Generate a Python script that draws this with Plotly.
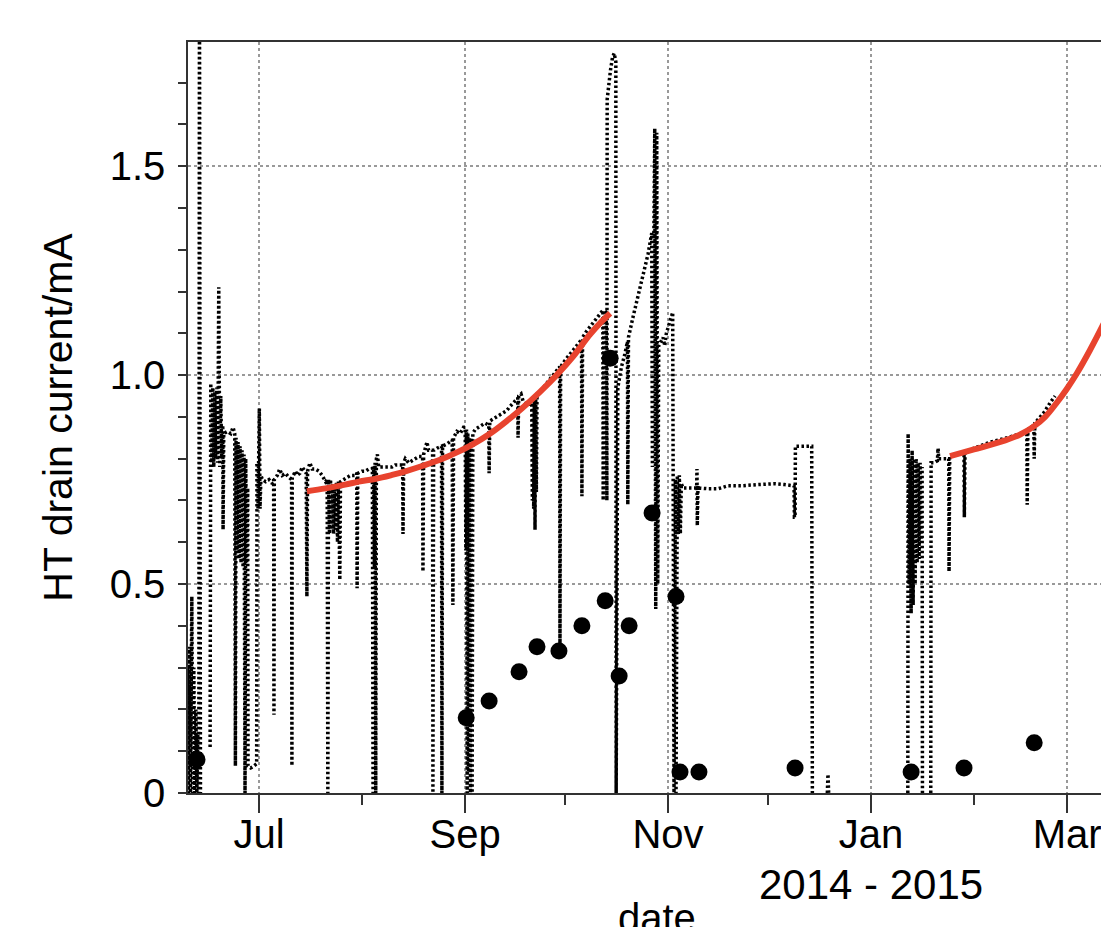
import pandas as pd
import plotly.graph_objects as go

start = pd.Timestamp("2014-06-01")

# HT drain current log, x in days after 1 June 2014 (None = no data)
current_day = [
    8.2, 8.5, 8.8, 9.1, 9.4, 9.8, 10.1, 10.4, 10.7, 11.0, 11.3, 11.6, 11.9, 12.1, 12.3, 12.4, None,
    15.3, 15.5, 15.8, 16.1, 16.4, 16.7, 17.0, 17.3, 17.6, 17.9, 18.2, 18.5, 18.8, 19.1, 19.2, 19.4,
    20.5, 21.5, 22.2, 22.7, 22.9, 23.1, 23.4, 23.7, 24.0, 24.3, 24.6, 24.9, 25.2, 25.5, 25.8,
    26.0, 26.3, 26.6, 26.7, 27.5, 28.5, 29.3, 29.4, 29.7, 30.1, 30.3, 30.6,
    31.0, 32.0, 33.0, 34.0, 34.4, 34.5, 34.6, 35.5, 36.2, 37.0, 38.0, 39.0, 39.8, 39.9,
    40.0, 41.0, 41.5, 42.3, 43.0, 44.2, 44.4, 44.6, 45.3, 46.0, 47.0, 48.0, 49.0, 50.0,
    50.5, 50.7, 50.9, 51.2, 51.5, 51.8, 52.1, 52.4, 52.7, 53.0, 53.3, 53.6, 53.9, 54.3, 54.5,
    55.5, 56.5, 57.5, 59.0, 59.4, 59.5, 59.7, 61.0, 62.0, 63.0, 64.1, 64.3, 64.5, 64.7, 64.9,
    65.1, 65.3, 65.6, 66.0,
    67.0, 68.0, 69.0, 70.0, 71.0, 72.0, 73.2, 73.3, 73.5, 74.0, 75.0, 76.0, 77.0, 78.0, 79.2,
    79.3, 79.5, 80.5, 81.0, 82.2, 82.3, 82.5, 83.5, 84.9, 85.0, 85.2, 86.5, 88.1, 88.3, 88.5,
    89.5, 90.5, 91.5,
    92.0, 92.2, 92.4, 92.6, 92.8, 93.0, 93.3, 93.6, 93.9, 94.1, 94.3, 95.0, 96.0, 97.0, 98.0,
    99.1, 99.2, 99.4, 100.5, 101.5, 102.5, 103.5, 104.5, 105.5, 106.5, 107.5, 107.8, 107.9, 108.1, 108.8,
    109.5, 110.5, 111.5,
    112.0, 112.2, 112.4, 112.6, 112.8, 113.0, 113.2, 113.4, 113.6, 114.5, 116.0, 117.5, 119.0, 120.4, 120.5,
    120.7, 122.0, 123.5, 125.0, 126.5, 127.0, 127.1, 127.3, 128.5, 130.0, 131.5, 133.0, 133.4, 133.5, 133.7,
    134.4, 134.6,
    134.7, 135.2, 135.7, 136.3, 136.8, 137.3, 137.4, 137.9, 139.0, 140.0, 140.8, 140.9, 141.1, 142.5, 144.0,
    145.5, 147.0, 148.1, 148.3, 148.6, 149.0, 149.3, 149.6, 149.9, 150.2, 151.5, 152.0, 152.5, 153.5, 154.4,
    154.8, 155.2, 155.4, 155.8, 156.1, 156.4, 156.7, 157.0,
    157.5, 159.0, 160.5, 161.6, 161.7, 161.8, 162.0, 162.2, 165.0, 168.0, 171.0, 175.0, 180.0, 185.0, 188.0,
    190.9, 191.0, 191.2, 191.3, 196.2, 196.4, None,
    200.9, 201.1, 201.3, None,
    225.1, 225.2, 225.5, 225.8, 226.1, 226.4, 226.7, 227.0, 227.3, 227.6, 227.9, 228.2, 228.5, 228.8, 229.1,
    229.4, 229.5, None, 232.0, 232.1, 233.0, 234.0, 234.2, 234.4, 236.0, 237.4, 237.5, 237.7,
    240.0, 242.0, 242.1, 242.3, 245.0, 250.0, 255.0, 260.9, 261.0, 261.2, 263.0, 263.1, 263.3, 266.0, 268.0,
    269.4,
]
current_mA = [
    0.00, 0.30, 0.00, 0.35, 0.00, 0.47, 0.00, 0.30, 0.00, 0.20, 0.00, 0.14, 0.00, 1.95, 0.50, 0.00, None,
    0.11, 0.98, 0.79, 0.97, 0.78, 0.96, 0.80, 0.97, 0.79, 1.21, 0.78, 0.95, 0.80, 0.88, 0.63, 0.86,
    0.865, 0.86, 0.875, 0.86, 0.065, 0.85, 0.58, 0.84, 0.56, 0.83, 0.55, 0.82, 0.54, 0.81, 0.00,
    0.80, 0.55, 0.73, 0.065, 0.06, 0.065, 0.07, 0.79, 0.68, 0.92, 0.68, 0.76,
    0.75, 0.745, 0.75, 0.74, 0.75, 0.187, 0.75, 0.76, 0.775, 0.76, 0.765, 0.755, 0.75, 0.065,
    0.755, 0.77, 0.76, 0.765, 0.78, 0.765, 0.47, 0.77, 0.79, 0.775, 0.775, 0.77, 0.76, 0.745,
    0.75, 0.00, 0.75, 0.62, 0.75, 0.63, 0.74, 0.62, 0.74, 0.63, 0.745, 0.60, 0.745, 0.51, 0.745,
    0.75, 0.755, 0.76, 0.76, 0.765, 0.49, 0.765, 0.77, 0.77, 0.775, 0.777, 0.00, 0.78, 0.54, 0.79,
    0.00, 0.80, 0.81, 0.78,
    0.78, 0.78, 0.782, 0.78, 0.785, 0.785, 0.785, 0.62, 0.79, 0.80, 0.79, 0.795, 0.80, 0.805, 0.805,
    0.53, 0.81, 0.84, 0.82, 0.82, 0.00, 0.82, 0.825, 0.83, 0.00, 0.83, 0.835, 0.845, 0.45, 0.85,
    0.865, 0.86, 0.875,
    0.875, 0.58, 0.87, 0.00, 0.86, 0.05, 0.85, 0.00, 0.85, 0.00, 0.86, 0.87, 0.875, 0.88, 0.885,
    0.88, 0.765, 0.89, 0.895, 0.90, 0.905, 0.91, 0.915, 0.925, 0.935, 0.945, 0.945, 0.85, 0.95, 0.955,
    0.935, 0.93, 0.93,
    0.94, 0.70, 0.94, 0.68, 0.945, 0.63, 0.95, 0.72, 0.955, 0.96, 0.975, 0.99, 1.005, 1.02, 0.34,
    1.02, 1.035, 1.05, 1.065, 1.08, 1.085, 0.71, 1.09, 1.105, 1.12, 1.135, 1.15, 1.155, 0.70, 1.155,
    1.15, 0.70,
    1.66, 1.70, 1.73, 1.76, 1.77, 1.75, 0.00, 0.97, 1.02, 1.05, 1.08, 0.69, 1.09, 1.14, 1.19,
    1.24, 1.29, 1.34, 0.78, 1.20, 1.59, 0.44, 1.58, 0.50, 1.07, 1.09, 1.07, 1.10, 1.13, 1.15,
    0.00, 0.75, 0.00, 0.76, 0.62, 0.76, 0.62, 0.74,
    0.73, 0.73, 0.73, 0.73, 0.775, 0.64, 0.735, 0.73, 0.728, 0.728, 0.735, 0.735, 0.738, 0.74, 0.738,
    0.735, 0.66, 0.66, 0.83, 0.83, 0.00, None,
    0.00, 0.045, 0.00, None,
    0.00, 0.86, 0.50, 0.80, 0.43, 0.82, 0.45, 0.80, 0.50, 0.80, 0.55, 0.79, 0.56, 0.79, 0.60,
    0.78, 0.00, None, 0.00, 0.79, 0.79, 0.795, 0.825, 0.80, 0.80, 0.80, 0.53, 0.805,
    0.81, 0.815, 0.66, 0.815, 0.825, 0.84, 0.85, 0.865, 0.69, 0.87, 0.88, 0.80, 0.885, 0.91, 0.935,
    0.95,
]

# single measurements (black dots)
sample_day = [11.35, 92.3, 99.2, 108.2, 113.6, 120.2, 127.1, 134.1, 135.6, 138.3,
              141.3, 148.2, 155.4, 156.6, 162.3, 191.2, 226.1, 242.0, 263.1]
sample_mA = [0.08, 0.18, 0.22, 0.29, 0.35, 0.34, 0.40, 0.46, 1.04, 0.28,
             0.40, 0.67, 0.47, 0.05, 0.05, 0.06, 0.05, 0.06, 0.12]

# fitted curves (red)
fit1_day = [44.4, 50.0, 55.9, 60.0, 65.2, 70.0, 73.3, 79.3, 85.0, 89.5,
            94.0, 99.3, 104.0, 109.3, 114.5, 119.5, 124.5, 129.5, 133.0, 135.6]
fit1_mA = [0.722, 0.729, 0.738, 0.745, 0.752, 0.761, 0.768, 0.783, 0.799, 0.815,
           0.833, 0.859, 0.887, 0.922, 0.960, 1.000, 1.045, 1.097, 1.128, 1.148]
fit2_day = [237.8, 245.0, 252.9, 258.9, 262.8, 266.4, 270.0, 273.0, 276.0, 279.9, 283.8, 285.6]
fit2_mA = [0.806, 0.822, 0.840, 0.858, 0.876, 0.900, 0.935, 0.968, 1.005, 1.060, 1.120, 1.150]

major_ticks = ["2014-07-01", "2014-09-01", "2014-11-01", "2015-01-01", "2015-03-01"]
major_labels = ["Jul", "Sep", "Nov", "Jan", "Mar"]
minor_ticks = ["2014-08-01", "2014-10-01", "2014-12-01", "2015-02-01"]


def to_date(days):
    return [None if d is None else (start + pd.Timedelta(days=d)).strftime("%Y-%m-%d %H:%M:%S")
            for d in days]


fig = go.Figure()
fig.add_trace(go.Scatter(x=to_date(current_day), y=current_mA, mode="lines",
                         line=dict(color="black", width=3.5, dash="2.5px,2.5px"),
                         name="HT drain current"))
fig.add_trace(go.Scatter(x=to_date(sample_day), y=sample_mA, mode="markers",
                         marker=dict(color="black", size=17), name="samples"))
fig.add_trace(go.Scatter(x=to_date(fit1_day), y=fit1_mA, mode="lines",
                         line=dict(color="#e8432e", width=6, shape="spline"), name="fit 1"))
fig.add_trace(go.Scatter(x=to_date(fit2_day), y=fit2_mA, mode="lines",
                         line=dict(color="#e8432e", width=6, shape="spline"), name="fit 2"))

fig.update_layout(
    width=1101, height=919,
    margin=dict(l=180, r=0, t=34, b=134),
    plot_bgcolor="white", paper_bgcolor="white",
    showlegend=False,
    font=dict(family="Liberation Sans, Arial, sans-serif", size=40, color="black"),
)
fig.update_xaxes(
    range=to_date([8.65, 285.6]),
    tickmode="array", tickvals=major_ticks, ticktext=major_labels,
    ticks="outside", ticklen=18, tickwidth=1.5, tickcolor="#333",
    ticklabelstandoff=-13,
    minor=dict(tickmode="array", tickvals=minor_ticks, ticks="outside", ticklen=10,
               tickwidth=1.5, tickcolor="#333", showgrid=False),
    showgrid=True, gridcolor="#999", gridwidth=1.5, griddash="dot",
    showline=True, linecolor="#333", linewidth=1.5, mirror=True,
    zeroline=False,
)
fig.update_yaxes(
    range=[0, 1.797],
    tickmode="array", tickvals=[0, 0.5, 1.0, 1.5], ticktext=["0", "0.5", "1.0", "1.5"],
    ticks="outside", ticklen=8, tickwidth=1.5, tickcolor="#333",
    ticklabelstandoff=5,
    minor=dict(dtick=0.1, ticks="outside", ticklen=8, tickwidth=1.5, tickcolor="#333", showgrid=False),
    showgrid=True, gridcolor="#999", gridwidth=1.5, griddash="dot",
    showline=True, linecolor="#333", linewidth=1.5,
    zeroline=False,
    title=dict(text="HT drain current/mA", font=dict(size=41), standoff=24),
)
fig.add_annotation(text="2014 - 2015", x="2015-01-01", xref="x", y=-0.1225, yref="paper",
                   showarrow=False, yanchor="middle", font=dict(size=42))
fig.add_annotation(text="date", x=0.509, xref="paper", y=-0.1664, yref="paper",
                   showarrow=False, yanchor="middle")

fig.write_html("out.html")
